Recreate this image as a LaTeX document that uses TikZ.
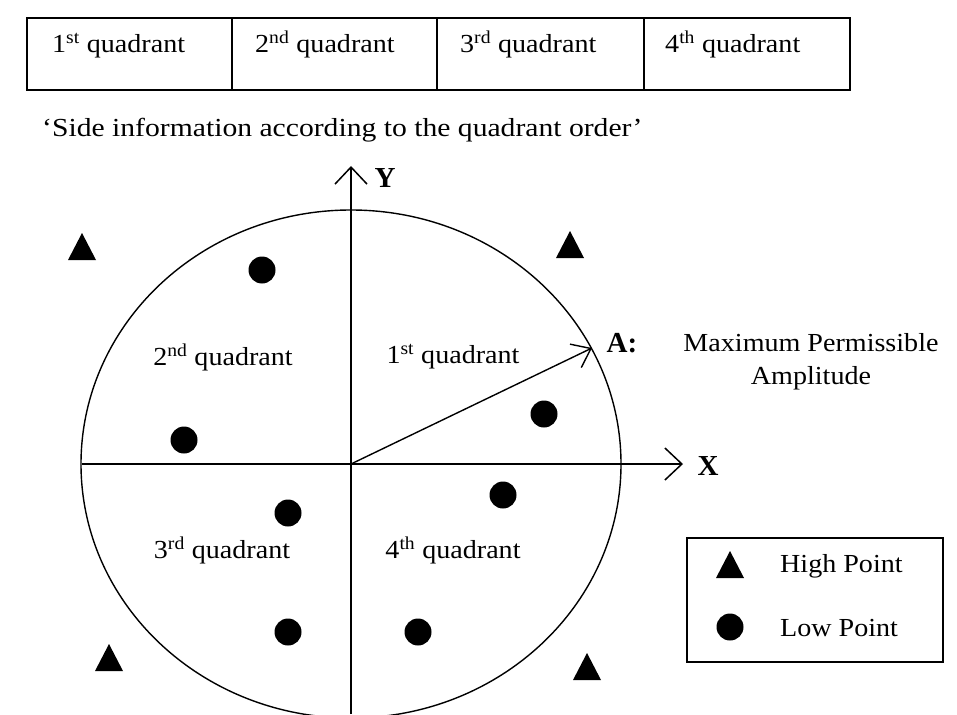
\documentclass[tikz,border=0pt]{standalone}
\usepackage{fontspec}
\setmainfont{Liberation Serif}
\newfontfamily\widefont[FakeStretch=1.08]{Liberation Serif}
\newfontfamily\widerfont[FakeStretch=1.14]{Liberation Serif}
\usetikzlibrary{arrows.meta}
\begin{document}
\begin{tikzpicture}[x=1pt,y=-1pt,
  txt/.style={font=\widefont\fontsize{26}{30}\selectfont, inner sep=0pt},
  bold/.style={font=\fontsize{29}{30}\selectfont\bfseries, inner sep=0pt},
  axis/.style={line width=1.8pt, -{Straight Barb[length=17pt,width=32pt,line width=1.5pt]}},
  vec/.style={line width=1.4pt, -{Straight Barb[length=17pt,width=26pt,line width=1.4pt]}},
  frame/.style={line width=1.8pt},
  dot/.style={fill=black},
  tri/.style={fill=black}]
\useasboundingbox (0,0) rectangle (957,714);
% table
\draw[frame] (27,18) rectangle (850,90);
\draw[frame] (232,18) -- (232,90) (437,18) -- (437,90) (644,18) -- (644,90);
\node[txt, anchor=base west] (q1) at (52,53) {1\textsuperscript{st} quadrant};
\node[txt, anchor=base west] (q2) at (255,53) {2\textsuperscript{nd} quadrant};
\node[txt, anchor=base west] (q3) at (460,53) {3\textsuperscript{rd} quadrant};
\node[txt, anchor=base west] (q4) at (665,53) {4\textsuperscript{th} quadrant};
\node[txt, font=\widerfont\fontsize{26}{30}\selectfont, anchor=west] (side) at (42,130) {‘Side information according to the quadrant order’};
% axes and circle
\coordinate (O) at (351,464);
\coordinate (Ytip) at (351,166);
\coordinate (Ybot) at (351,714);
\coordinate (Xtip) at (683,464);
\coordinate (Xleft) at (82,464);
\coordinate (A) at (592,348);
\draw[line width=1.4pt] (O) ellipse [x radius=270, y radius=254];
\draw[axis] (Ybot) -- (Ytip);
\draw[axis] (Xleft) -- (Xtip);
\draw[vec] (O) -- (A);
\node[bold] (Y) at (385,178) {Y};
\node[bold] (X) at (708,466) {X};
\node[bold] (Alab) at (622,343) {A:};
\node[txt] (max) at (811,343) {Maximum Permissible};
\node[txt] (amp) at (811,378) {Amplitude};
% quadrant labels
\node[txt] (l2) at (223,357) {2\textsuperscript{nd} quadrant};
\node[txt] (l1) at (453,357) {1\textsuperscript{st} quadrant};
\node[txt] (l3) at (222,550) {3\textsuperscript{rd} quadrant};
\node[txt] (l4) at (453,550) {4\textsuperscript{th} quadrant};
% low points
\foreach \p in {(262,270),(184,440),(544,414),(288,513),(503,495),(288,632),(418,632)}
  \fill[dot] \p circle[radius=13.5];
% high points
\foreach \p in {(82,247),(570,245),(109,658),(587,667)}
  \fill[tri, shift={\p}] (-14,13) -- (14,13) -- (0,-14) -- cycle;
% legend
\draw[frame] (687,538) rectangle (943,662);
\fill[tri, shift={(730,565)}] (-14,13) -- (14,13) -- (0,-14) -- cycle;
\fill[dot] (730,627) circle[radius=13.5];
\node[txt, anchor=west] (hp) at (780,566) {High Point};
\node[txt, anchor=west] (lp) at (780,628) {Low Point};
\end{tikzpicture}
\end{document}
